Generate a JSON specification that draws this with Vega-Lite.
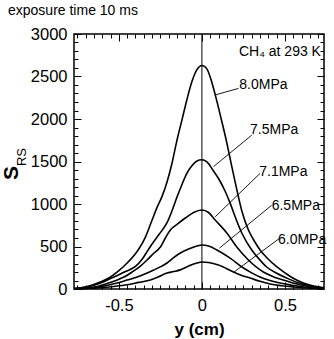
{
  "$schema": "https://vega.github.io/schema/vega-lite/v6.json",
  "width": 250,
  "height": 255,
  "autosize": "none",
  "padding": {"left": 74, "top": 34, "right": 10, "bottom": 50},
  "title": {"text": "exposure time 10 ms", "anchor": "start", "frame": "group", "dx": -66, "dy": -4, "fontSize": 14, "fontWeight": "normal", "font": "Liberation Sans", "color": "black"},
  "config": {
    "view": {"stroke": "black", "strokeWidth": 1.5},
    "font": "Liberation Sans",
    "axis": {"grid": false, "domain": false, "tickColor": "black", "labelColor": "black", "titleColor": "black", "labelFont": "Liberation Sans", "titleFont": "Liberation Sans"}
  },
  "datasets": {
    "curves": [
      {"p":"8.0","x":-0.77,"s":5},{"p":"8.0","x":-0.72,"s":18},{"p":"8.0","x":-0.66,"s":47},{"p":"8.0","x":-0.6,"s":90},{"p":"8.0","x":-0.55,"s":141},{"p":"8.0","x":-0.5,"s":215},{"p":"8.0","x":-0.45,"s":306},{"p":"8.0","x":-0.41,"s":390},{"p":"8.0","x":-0.38,"s":470},{"p":"8.0","x":-0.34,"s":611},{"p":"8.0","x":-0.3,"s":811},{"p":"8.0","x":-0.27,"s":960},{"p":"8.0","x":-0.24,"s":1090},{"p":"8.0","x":-0.21,"s":1260},{"p":"8.0","x":-0.18,"s":1480},{"p":"8.0","x":-0.15,"s":1752},{"p":"8.0","x":-0.12,"s":1990},{"p":"8.0","x":-0.09,"s":2230},{"p":"8.0","x":-0.06,"s":2440},{"p":"8.0","x":-0.03,"s":2580},{"p":"8.0","x":0,"s":2630},{"p":"8.0","x":0.03,"s":2590},{"p":"8.0","x":0.06,"s":2430},{"p":"8.0","x":0.09,"s":2210},{"p":"8.0","x":0.12,"s":1970},{"p":"8.0","x":0.15,"s":1720},{"p":"8.0","x":0.18,"s":1440},{"p":"8.0","x":0.21,"s":1170},{"p":"8.0","x":0.24,"s":920},{"p":"8.0","x":0.28,"s":694},{"p":"8.0","x":0.32,"s":550},{"p":"8.0","x":0.35,"s":459},{"p":"8.0","x":0.4,"s":350},{"p":"8.0","x":0.45,"s":262},{"p":"8.0","x":0.5,"s":190},{"p":"8.0","x":0.55,"s":126},{"p":"8.0","x":0.6,"s":80},{"p":"8.0","x":0.65,"s":47},{"p":"8.0","x":0.7,"s":25},{"p":"8.0","x":0.735,"s":14},
      {"p":"7.5","x":-0.77,"s":4},{"p":"7.5","x":-0.7,"s":20},{"p":"7.5","x":-0.64,"s":50},{"p":"7.5","x":-0.58,"s":95},{"p":"7.5","x":-0.52,"s":150},{"p":"7.5","x":-0.46,"s":205},{"p":"7.5","x":-0.4,"s":265},{"p":"7.5","x":-0.36,"s":350},{"p":"7.5","x":-0.33,"s":440},{"p":"7.5","x":-0.3,"s":530},{"p":"7.5","x":-0.27,"s":611},{"p":"7.5","x":-0.24,"s":690},{"p":"7.5","x":-0.21,"s":780},{"p":"7.5","x":-0.18,"s":920},{"p":"7.5","x":-0.15,"s":1082},{"p":"7.5","x":-0.12,"s":1230},{"p":"7.5","x":-0.09,"s":1364},{"p":"7.5","x":-0.06,"s":1450},{"p":"7.5","x":-0.03,"s":1505},{"p":"7.5","x":0,"s":1520},{"p":"7.5","x":0.03,"s":1495},{"p":"7.5","x":0.066,"s":1400},{"p":"7.5","x":0.1,"s":1300},{"p":"7.5","x":0.14,"s":1150},{"p":"7.5","x":0.17,"s":1010},{"p":"7.5","x":0.2,"s":850},{"p":"7.5","x":0.24,"s":659},{"p":"7.5","x":0.3,"s":459},{"p":"7.5","x":0.35,"s":340},{"p":"7.5","x":0.39,"s":259},{"p":"7.5","x":0.45,"s":185},{"p":"7.5","x":0.51,"s":129},{"p":"7.5","x":0.57,"s":80},{"p":"7.5","x":0.63,"s":47},{"p":"7.5","x":0.69,"s":22},{"p":"7.5","x":0.735,"s":12},
      {"p":"7.1","x":-0.77,"s":3},{"p":"7.1","x":-0.7,"s":12},{"p":"7.1","x":-0.63,"s":30},{"p":"7.1","x":-0.57,"s":65},{"p":"7.1","x":-0.51,"s":106},{"p":"7.1","x":-0.46,"s":150},{"p":"7.1","x":-0.42,"s":200},{"p":"7.1","x":-0.37,"s":270},{"p":"7.1","x":-0.33,"s":341},{"p":"7.1","x":-0.29,"s":420},{"p":"7.1","x":-0.25,"s":494},{"p":"7.1","x":-0.22,"s":600},{"p":"7.1","x":-0.19,"s":694},{"p":"7.1","x":-0.15,"s":760},{"p":"7.1","x":-0.1,"s":835},{"p":"7.1","x":-0.05,"s":900},{"p":"7.1","x":0,"s":929},{"p":"7.1","x":0.04,"s":900},{"p":"7.1","x":0.08,"s":811},{"p":"7.1","x":0.15,"s":659},{"p":"7.1","x":0.21,"s":494},{"p":"7.1","x":0.28,"s":341},{"p":"7.1","x":0.37,"s":200},{"p":"7.1","x":0.43,"s":145},{"p":"7.1","x":0.49,"s":106},{"p":"7.1","x":0.56,"s":65},{"p":"7.1","x":0.63,"s":35},{"p":"7.1","x":0.69,"s":18},{"p":"7.1","x":0.735,"s":10},
      {"p":"6.5","x":-0.77,"s":2},{"p":"6.5","x":-0.66,"s":12},{"p":"6.5","x":-0.58,"s":40},{"p":"6.5","x":-0.51,"s":70},{"p":"6.5","x":-0.45,"s":105},{"p":"6.5","x":-0.39,"s":141},{"p":"6.5","x":-0.34,"s":180},{"p":"6.5","x":-0.29,"s":223},{"p":"6.5","x":-0.25,"s":260},{"p":"6.5","x":-0.21,"s":306},{"p":"6.5","x":-0.17,"s":370},{"p":"6.5","x":-0.13,"s":423},{"p":"6.5","x":-0.08,"s":470},{"p":"6.5","x":-0.03,"s":505},{"p":"6.5","x":0,"s":517},{"p":"6.5","x":0.04,"s":505},{"p":"6.5","x":0.09,"s":459},{"p":"6.5","x":0.17,"s":364},{"p":"6.5","x":0.25,"s":247},{"p":"6.5","x":0.3,"s":190},{"p":"6.5","x":0.35,"s":141},{"p":"6.5","x":0.41,"s":100},{"p":"6.5","x":0.47,"s":70},{"p":"6.5","x":0.54,"s":45},{"p":"6.5","x":0.61,"s":24},{"p":"6.5","x":0.68,"s":12},{"p":"6.5","x":0.735,"s":6},
      {"p":"6.0","x":-0.77,"s":2},{"p":"6.0","x":-0.68,"s":8},{"p":"6.0","x":-0.61,"s":15},{"p":"6.0","x":-0.53,"s":30},{"p":"6.0","x":-0.45,"s":50},{"p":"6.0","x":-0.38,"s":78},{"p":"6.0","x":-0.31,"s":106},{"p":"6.0","x":-0.26,"s":145},{"p":"6.0","x":-0.21,"s":188},{"p":"6.0","x":-0.17,"s":205},{"p":"6.0","x":-0.13,"s":225},{"p":"6.0","x":-0.08,"s":270},{"p":"6.0","x":-0.03,"s":306},{"p":"6.0","x":0,"s":318},{"p":"6.0","x":0.04,"s":312},{"p":"6.0","x":0.1,"s":282},{"p":"6.0","x":0.19,"s":200},{"p":"6.0","x":0.24,"s":160},{"p":"6.0","x":0.29,"s":129},{"p":"6.0","x":0.35,"s":90},{"p":"6.0","x":0.41,"s":59},{"p":"6.0","x":0.48,"s":38},{"p":"6.0","x":0.55,"s":24},{"p":"6.0","x":0.63,"s":12},{"p":"6.0","x":0.735,"s":5}
    ],
    "leaders": [
      {"p":"8.0","x":0.078,"s":2282},{"p":"8.0","x":0.22,"s":2360},
      {"p":"7.5","x":0.07,"s":1440},{"p":"7.5","x":0.3,"s":1810},
      {"p":"7.1","x":0.08,"s":850},{"p":"7.1","x":0.35,"s":1360},
      {"p":"6.5","x":0.105,"s":480},{"p":"6.5","x":0.42,"s":985},
      {"p":"6.0","x":0.19,"s":195},{"p":"6.0","x":0.47,"s":600}
    ],
    "labels": [
      {"t":"8.0MPa","x":0.225,"s":2400},
      {"t":"7.5MPa","x":0.29,"s":1870},
      {"t":"7.1MPa","x":0.345,"s":1375},
      {"t":"6.5MPa","x":0.42,"s":975},
      {"t":"6.0MPa","x":0.458,"s":580},
      {"t":"CH₄ at 293 K","x":0.223,"s":2787}
    ],
    "ymain": [{"t":"S","x":-1.142,"s":1364}],
    "ysub": [{"t":"RS","x":-1.081,"s":1552}],
    "zero": [{"x":0}]
  },
  "resolve": {"axis": {"x": "independent", "y": "independent"}},
  "layer": [
    {
      "data": {"name": "curves"},
      "mark": {"type": "line", "color": "black", "strokeWidth": 1.6, "interpolate": "monotone"},
      "encoding": {
        "x": {"field": "x", "type": "quantitative", "scale": {"domain": [-0.77, 0.735], "nice": false, "zero": false},
          "axis": {"orient": "bottom", "title": "y (cm)", "titleFontSize": 17, "titleFontWeight": "bold", "titlePadding": 5,
            "values": [-0.75,-0.7,-0.65,-0.6,-0.55,-0.5,-0.45,-0.4,-0.35,-0.3,-0.25,-0.2,-0.15,-0.1,-0.05,0,0.05,0.1,0.15,0.2,0.25,0.3,0.35,0.4,0.45,0.5,0.55,0.6,0.65,0.7],
            "labelExpr": "datum.value == -0.5 ? '-0.5' : datum.value == 0 ? '0' : datum.value == 0.5 ? '0.5' : ''",
            "labelFontSize": 16.5, "labelPadding": 15, "labelFlush": false, "labelOverlap": false,
            "tickSize": {"condition": {"test": "abs(datum.value*2 - round(datum.value*2)) < 0.001", "value": -7}, "value": -4}}},
        "y": {"field": "s", "type": "quantitative", "scale": {"domain": [0, 3000], "nice": false},
          "axis": {"orient": "left", "title": null,
            "values": [0,100,200,300,400,500,600,700,800,900,1000,1100,1200,1300,1400,1500,1600,1700,1800,1900,2000,2100,2200,2300,2400,2500,2600,2700,2800,2900,3000],
            "labelExpr": "datum.value % 500 == 0 ? datum.value : ''",
            "labelFontSize": 16.5, "labelPadding": 14, "labelFlush": false, "labelOverlap": false,
            "tickSize": {"condition": {"test": "datum.value % 500 == 0", "value": -7}, "value": -4}}},
        "detail": {"field": "p"}
      }
    },
    {
      "data": {"name": "leaders"},
      "mark": {"type": "line", "color": "black", "strokeWidth": 0.9},
      "encoding": {
        "x": {"field": "x", "type": "quantitative", "scale": {"domain": [-0.77, 0.735], "nice": false, "zero": false},
          "axis": {"orient": "top", "title": null, "labels": false,
            "values": [-0.75,-0.7,-0.65,-0.6,-0.55,-0.5,-0.45,-0.4,-0.35,-0.3,-0.25,-0.2,-0.15,-0.1,-0.05,0,0.05,0.1,0.15,0.2,0.25,0.3,0.35,0.4,0.45,0.5,0.55,0.6,0.65,0.7],
            "tickSize": {"condition": {"test": "abs(datum.value*2 - round(datum.value*2)) < 0.001", "value": -7}, "value": -4}}},
        "y": {"field": "s", "type": "quantitative", "scale": {"domain": [0, 3000], "nice": false},
          "axis": {"orient": "right", "title": null, "labels": false,
            "values": [0,100,200,300,400,500,600,700,800,900,1000,1100,1200,1300,1400,1500,1600,1700,1800,1900,2000,2100,2200,2300,2400,2500,2600,2700,2800,2900,3000],
            "tickSize": {"condition": {"test": "datum.value % 500 == 0", "value": -7}, "value": -4}}},
        "detail": {"field": "p"}
      }
    },
    {
      "data": {"name": "zero"},
      "mark": {"type": "rule", "color": "black", "strokeWidth": 1},
      "encoding": {
        "x": {"field": "x", "type": "quantitative", "scale": {"domain": [-0.77, 0.735], "nice": false, "zero": false}, "axis": null}
      }
    },
    {
      "data": {"name": "labels"},
      "mark": {"type": "text", "align": "left", "baseline": "middle", "fontSize": 14, "font": "Liberation Sans", "color": "black"},
      "encoding": {
        "x": {"field": "x", "type": "quantitative", "scale": {"domain": [-0.77, 0.735], "nice": false, "zero": false}, "axis": null},
        "y": {"field": "s", "type": "quantitative", "scale": {"domain": [0, 3000], "nice": false}, "axis": null},
        "text": {"field": "t"}
      }
    },
    {
      "data": {"name": "ymain"},
      "mark": {"type": "text", "align": "center", "baseline": "middle", "angle": 270, "font": "Liberation Sans", "fontSize": 21, "fontWeight": "bold", "color": "black"},
      "encoding": {
        "x": {"field": "x", "type": "quantitative", "scale": {"domain": [-0.77, 0.735], "nice": false, "zero": false}, "axis": null},
        "y": {"field": "s", "type": "quantitative", "scale": {"domain": [0, 3000], "nice": false}, "axis": null},
        "text": {"field": "t"}
      }
    },
    {
      "data": {"name": "ysub"},
      "mark": {"type": "text", "align": "center", "baseline": "middle", "angle": 270, "font": "Liberation Sans", "fontSize": 13, "fontWeight": "normal", "color": "black"},
      "encoding": {
        "x": {"field": "x", "type": "quantitative", "scale": {"domain": [-0.77, 0.735], "nice": false, "zero": false}, "axis": null},
        "y": {"field": "s", "type": "quantitative", "scale": {"domain": [0, 3000], "nice": false}, "axis": null},
        "text": {"field": "t"}
      }
    }
  ]
}
